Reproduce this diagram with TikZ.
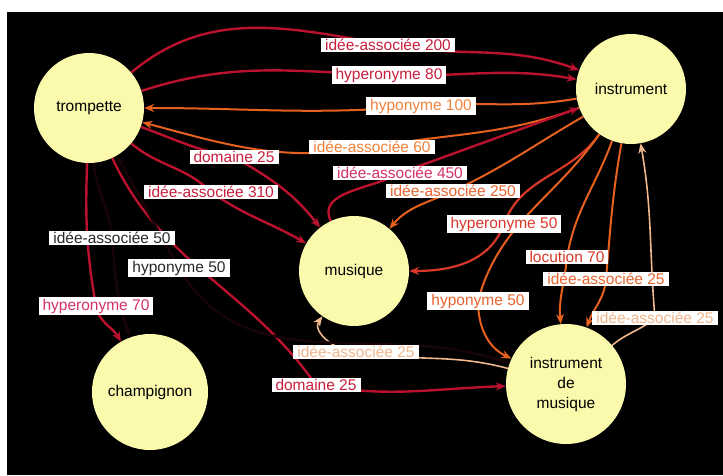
\documentclass[tikz,border=0pt]{standalone}
\usepackage{fontspec}
\setmainfont{Liberation Sans}
\usepackage{tikz}
\usetikzlibrary{arrows.meta}
\definecolor{nodefill}{RGB}{250,249,172}
\definecolor{crimson}{RGB}{186,18,46}
\definecolor{crimsontext}{RGB}{200,30,60}
\definecolor{pinktext}{RGB}{212,50,100}
\definecolor{redorange}{RGB}{216,56,40}
\definecolor{orangeedge}{RGB}{230,96,30}
\definecolor{orangetext}{RGB}{232,100,45}
\definecolor{lightorange}{RGB}{240,130,60}
\definecolor{peach}{RGB}{240,182,140}
\definecolor{darkedge}{RGB}{24,4,7}
\definecolor{darktext}{RGB}{40,40,40}
\pgfdeclarelayer{edgelayer}
\pgfsetlayers{edgelayer,main}

\begin{document}
\begin{tikzpicture}[x=1pt,y=1pt,>={Stealth[length=10pt,width=8pt]},
  vertex/.style={circle,fill=nodefill,inner sep=0pt,align=center,font=\fontsize{15.5}{20}\selectfont},
  lab/.style={fill=white,inner xsep=4pt,inner ysep=1.5pt,font=\fontsize{15.5}{17}\selectfont},
  rel/.style={->,line width=2.4pt},
  relthin/.style={->,line width=1.6pt}]
  \useasboundingbox (0,0) rectangle (723,475);
  \node[vertex,minimum size=110pt] (trompette) at (89,367) {trompette};
  \node[vertex,minimum size=110pt] (instrument) at (631,386) {instrument};
  \node[vertex,minimum size=110pt] (musique) at (354,204) {musique};
  \node[vertex,minimum size=116pt] (champignon) at (150,83) {champignon};
  \node[vertex,minimum size=120pt] (instrumentmusique) at (566,91) {instrument\\de\\musique};
  \node[lab,text=crimsontext] (ia200) at (388,430) {idée-associée 200};
  \node[lab,text=crimsontext] (hyper80) at (389,400) {hyperonyme 80};
  \node[lab,text=lightorange] (hypo100) at (421,369) {hyponyme 100};
  \node[lab,text=lightorange] (ia60) at (372,328) {idée-associée 60};
  \node[lab,text=crimsontext] (dom1) at (234,318) {domaine 25};
  \node[lab,text=pinktext] (ia450) at (400,302) {idée-associée 450};
  \node[lab,text=orangetext] (ia250) at (453,284) {idée-associée 250};
  \node[lab,text=crimsontext] (ia310) at (211,283) {idée-associée 310};
  \node[lab,text=redorange] (hyper50) at (504,251) {hyperonyme 50};
  \node[lab,text=darktext] (ia50) at (112,237) {idée-associée 50};
  \node[lab,text=darktext] (hypo50a) at (179,207) {hyponyme 50};
  \node[lab,text=redorange] (loc70) at (567,218) {locution 70};
  \node[lab,text=orangetext] (ia25a) at (606,196) {idée-associée 25};
  \node[lab,text=pinktext] (hyper70) at (96,169) {hyperonyme 70};
  \node[lab,text=orangetext] (hypo50b) at (478,174) {hyponyme 50};
  \node[lab,text=peach] (ia25b) at (655,157) {idée-associée 25};
  \node[lab,text=peach] (ia25c) at (356,123) {idée-associée 25};
  \node[lab,text=crimsontext] (dom2) at (316,90) {domaine 25};
  \begin{pgfonlayer}{edgelayer}
  \fill[black] (7,0) rectangle (723,463);
  \draw[rel,crimson] (trompette) to[out=40,in=170] (ia200.center) to[out=-10,in=160] (instrument);
  \draw[rel,crimson] (trompette) to[out=18,in=178] (hyper80.center) to[out=-2,in=170] (instrument);
  \draw[rel,orangeedge,line width=2pt] (instrument) to[out=190,in=5] (hypo100.center) to[out=185,in=0] (trompette);
  \draw[rel,orangeedge,line width=2pt] (instrument) to[out=200,in=10] (ia60.center) to[out=190,in=-15] (trompette);
  \draw[rel,crimson] (trompette) to[out=-20,in=170] (dom1.center) to[out=-30,in=128] (musique);
  \draw[rel,crimson] (trompette) to[out=-40,in=135] (ia310.center) to[out=-35,in=150] (musique);
  \draw[rel,crimson] (musique) to[out=115,in=210] (ia450.center) to[out=20,in=200] (instrument);
  \draw[rel,orangeedge,line width=2pt] (instrument) to[out=210,in=25] (ia250.center) to[out=205,in=50] (musique);
  \draw[rel,redorange,line width=2.2pt] (instrument) to[out=235,in=70] (hyper50.center) to[out=250,in=0] (musique);
  \draw[rel,orangeedge,line width=2pt] (instrument) to[out=235,in=75] (hypo50b.center) to[out=-90,in=155] (instrumentmusique);
  \draw[rel,orangeedge,line width=2pt] (instrument) to[out=250,in=80] (loc70.center) to[out=-95,in=95] (instrumentmusique);
  \draw[rel,orangeedge,line width=2pt] (instrument) to[out=260,in=85] (ia25a.center) to[out=-95,in=70] (instrumentmusique);
  \draw[relthin,peach] (instrumentmusique) to[out=40,in=220] (ia25b.center) to[out=95,in=-80] (instrument);
  \draw[relthin,peach] (instrumentmusique) to[out=165,in=-10] (ia25c.center) to[out=180,in=235] (musique);
  \draw[rel,crimson] (trompette) to[out=-65,in=125] (dom2.center) to[out=-10,in=182] (instrumentmusique);
  \draw[rel,darkedge] (trompette) to[out=-85,in=95] (ia50.center) to[out=-85,in=110] (champignon);
  \draw[rel,darkedge] (instrumentmusique) to[out=160,in=-60] (hypo50a.center) to[out=120,in=-60] (trompette);
  \draw[rel,crimson] (trompette) to[out=-92,in=100] (hyper70.center) to[out=-80,in=120] (champignon);
  \end{pgfonlayer}
\end{tikzpicture}
\end{document}
